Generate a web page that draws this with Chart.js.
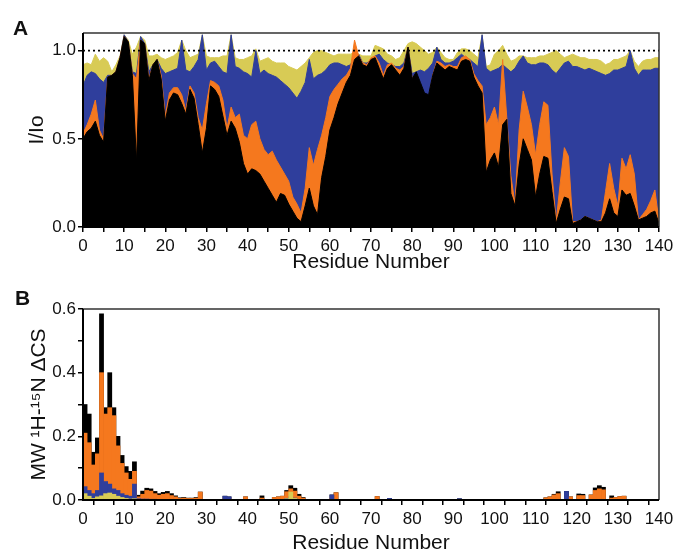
<!DOCTYPE html>
<html>
<head>
<meta charset="utf-8">
<script src="https://cdn.jsdelivr.net/npm/chart.js@4.4.1/dist/chart.umd.min.js"></script>
<style>
  body { margin: 0; background: #fff; width: 680px; height: 553px; position: relative; overflow: hidden; }
  canvas { position: absolute; left: 0; }
  #chartA { top: 0; }
  #chartB { top: 275px; }
  .tag { position: absolute; font: bold 21px 'Liberation Sans', Arial, sans-serif; line-height: 21px; color: #111; }
</style>
</head>
<body>
<canvas id="chartA" width="680" height="275"></canvas>
<canvas id="chartB" width="680" height="278"></canvas>
<div class="tag" style="left:13px;top:17px">A</div>
<div class="tag" style="left:15px;top:287px">B</div>
<script>
// panel A: relative peak intensity I/Io per residue (0..140)
const residues = Array.from({ length: 141 }, (_, i) => i);

const intensityBlack = [
  0.50,
  0.54,0.56,0.60,0.52,0.48,0.85,0.86,0.88,0.96,1.08,
  1.05,0.86,0.37,1.06,1.04,0.83,0.92,0.95,0.84,0.60,
  0.72,0.76,0.75,0.70,0.64,0.78,0.73,0.58,0.42,0.56,
  0.80,0.78,0.74,0.63,0.52,0.60,0.56,0.48,0.36,0.30,
  0.33,0.32,0.30,0.26,0.22,0.18,0.14,0.19,0.18,0.13,
  0.09,0.05,0.03,0.12,0.22,0.12,0.07,0.28,0.40,0.55,
  0.62,0.70,0.76,0.82,0.86,0.95,0.97,0.92,0.91,0.95,
  0.96,0.90,0.84,0.90,0.92,0.89,0.86,0.90,1.02,0.84,
  0.88,0.82,0.76,0.75,0.86,0.93,0.91,0.89,0.91,0.90,
  0.89,0.94,0.95,0.94,0.85,0.80,0.76,0.31,0.38,0.42,
  0.34,0.58,0.61,0.19,0.12,0.35,0.50,0.44,0.38,0.17,
  0.30,0.40,0.39,0.20,0.02,0.10,0.17,0.16,0.02,0.03,
  0.04,0.06,0.05,0.04,0.03,0.03,0.08,0.16,0.08,0.06,
  0.21,0.18,0.19,0.12,0.04,0.05,0.06,0.08,0.09,0.02
];
const intensityOrange = [
  0.53,
  0.58,0.64,0.72,0.55,0.50,0.85,0.86,0.88,0.96,1.08,
  1.05,0.87,0.84,1.06,1.04,0.84,0.92,0.95,0.86,0.63,
  0.76,0.79,0.79,0.75,0.66,0.80,0.76,0.62,0.55,0.70,
  0.83,0.82,0.80,0.72,0.56,0.68,0.62,0.64,0.52,0.50,
  0.58,0.60,0.50,0.44,0.41,0.43,0.38,0.34,0.30,0.26,
  0.17,0.13,0.08,0.22,0.45,0.35,0.44,0.52,0.62,0.74,
  0.78,0.81,0.84,0.86,0.90,1.06,0.97,0.93,0.92,0.96,
  0.97,0.93,0.86,0.92,0.93,0.90,0.89,0.91,1.02,0.84,
  0.86,0.76,0.60,0.72,0.86,0.94,0.93,0.91,0.92,0.91,
  0.91,0.96,0.97,0.95,0.87,0.83,0.80,0.58,0.62,0.68,
  0.58,0.95,0.62,0.29,0.13,0.55,0.77,0.68,0.58,0.41,
  0.58,0.71,0.69,0.30,0.03,0.25,0.45,0.40,0.03,0.03,
  0.04,0.06,0.05,0.04,0.03,0.04,0.20,0.36,0.22,0.12,
  0.39,0.33,0.41,0.30,0.04,0.07,0.10,0.15,0.21,0.03
];
const intensityBlue = [
  0.80,
  0.86,0.88,0.87,0.84,0.82,0.86,0.86,0.88,0.96,1.09,
  1.05,0.88,0.87,1.08,1.04,0.88,0.92,0.95,0.90,0.87,
  0.88,0.89,0.90,1.06,0.89,0.88,0.91,0.95,1.09,0.89,
  0.93,0.94,0.91,0.88,0.87,1.09,0.91,0.90,0.88,0.87,
  0.85,1.00,0.87,0.89,0.87,0.86,0.85,0.83,0.81,0.79,
  0.76,0.73,0.77,0.82,0.95,0.84,0.86,0.87,0.89,0.92,
  0.93,0.93,0.92,0.91,0.92,0.96,0.98,0.93,0.93,0.95,
  0.97,0.98,0.95,0.93,0.92,0.91,0.91,0.93,1.02,0.87,
  0.88,0.89,0.88,0.90,0.93,1.02,0.95,0.93,0.93,0.94,
  0.96,0.98,0.96,0.95,0.93,0.91,1.09,0.90,0.88,0.89,
  0.90,0.92,0.90,0.88,0.90,0.94,0.97,0.93,0.92,0.92,
  0.93,0.93,0.92,0.89,0.87,0.90,0.93,0.94,0.91,0.91,
  0.90,0.89,0.90,0.89,0.88,0.87,0.86,0.87,0.89,0.89,
  0.90,0.91,1.00,0.90,0.86,0.89,0.89,0.89,0.90,0.90
];
const intensityYellow = [
  0.92,
  0.93,0.92,0.98,0.94,0.96,0.94,0.88,0.92,0.97,1.09,
  1.06,0.98,1.02,1.08,1.06,0.97,0.97,0.98,0.96,0.95,
  0.96,0.97,0.99,1.06,1.00,0.96,0.97,0.98,1.09,0.97,
  0.96,0.96,0.96,0.97,0.97,1.09,0.96,0.95,0.95,0.96,
  0.97,1.01,0.94,0.95,0.96,0.94,0.93,0.93,0.93,0.91,
  0.90,0.89,0.91,0.93,0.96,0.99,1.00,1.00,0.99,0.98,
  0.97,0.98,0.98,0.98,0.98,0.99,0.98,0.97,0.97,0.97,
  1.03,1.02,1.01,0.98,0.97,0.95,0.96,1.00,1.04,1.05,
  1.04,1.02,1.00,0.98,0.99,1.02,0.99,0.96,0.95,0.95,
  0.99,1.01,1.01,1.00,0.98,0.96,1.09,0.91,0.92,0.98,
  1.00,1.03,0.98,0.94,0.95,0.97,0.97,0.96,0.96,0.96,
  0.97,0.97,0.98,0.99,1.00,0.98,0.96,0.97,0.98,0.97,
  0.96,0.96,0.95,0.95,0.95,0.94,0.92,0.93,0.95,0.95,
  0.96,0.97,1.00,0.94,0.91,0.94,0.95,0.95,0.96,0.96
];
const refLevel = 1.0;

// panel B: weighted chemical shift change, residues that show a bar
const shiftResidues = [
  1,2,3,4,5,6,7,8,9,10,11,12,13,14,15,16,17,18,19,20,21,22,23,24,25,26,27,28,29,
  35,36,40,44,47,48,49,50,51,52,53,54,
  61,62,72,75,92,
  113,114,115,116,118,119,121,122,124,125,126,127,129,130,131,132
];
const shiftBlack = [
  0.30,0.27,0.15,0.195,0.585,0.29,0.40,0.29,0.20,0.14,0.105,0.09,0.12,0.015,0.028,0.037,0.035,0.027,0.02,0.024,0.027,0.02,0.013,0.007,0.008,0.006,0.006,0.008,0.025,
  0.012,0.010,0.010,0.013,0.008,0.010,0.012,0.030,0.045,0.037,0.018,0.008,
  0.016,0.023,0.011,0.005,0.004,
  0.007,0.010,0.018,0.026,0.027,0.010,0.019,0.018,0.016,0.038,0.045,0.040,0.013,0.008,0.011,0.012
];
const shiftOrange = [
  0.21,0.18,0.11,0.145,0.40,0.27,0.29,0.265,0.17,0.115,0.085,0.065,0.09,0.01,0.018,0.03,0.028,0.02,0.015,0.018,0.02,0.014,0.01,0.005,0.006,0.005,0.005,0.006,0.025,
  0.006,0.005,0.010,0.006,0.008,0.010,0.012,0.026,0.035,0.028,0.012,0.006,
  0.006,0.023,0.011,0,0,
  0.007,0.010,0.016,0.020,0.006,0.010,0.014,0.014,0.016,0.030,0.035,0.032,0.006,0.008,0.011,0.012
];
const shiftBlue = [
  0.042,0.03,0.02,0.03,0.085,0.058,0.05,0.035,0.03,0.02,0.015,0.012,0.05,0.004,0.003,0.003,0.002,0.002,0,0,0,0,0,0,0,0,0,0,0,
  0.012,0.010,0,0,0,0,0,0.005,0.010,0.006,0,0,
  0.016,0,0,0.005,0.004,
  0,0,0,0,0.027,0,0,0,0,0,0,0,0,0,0,0
];
const shiftYellow = [
  0.02,0.012,0.005,0.01,0.013,0.02,0.022,0.018,0.012,0.008,0.005,0.003,0.004,0,0,0,0,0,0,0,0,0,0,0,0,0,0,0,0,
  0,0,0,0,0,0,0,0.004,0.025,0.005,0,0,
  0,0,0,0,0,
  0,0,0,0,0,0,0,0,0,0,0,0,0,0,0,0
];

const colBlack = '#000000';
const colOrange = '#f5781e';
const colBlue = '#2f3e9c';
const colYellow = '#d8cb55';

Chart.defaults.font.family = "'Liberation Sans', Arial, Helvetica, sans-serif";
Chart.defaults.color = '#111';

// box round the plot, drawn over the filled areas
const framePlugin = {
  id: 'frame',
  afterDatasetsDraw(chart) {
    const { ctx, chartArea: a } = chart;
    ctx.save();
    ctx.strokeStyle = '#333';
    ctx.lineWidth = 1.5;
    ctx.beginPath();
    ctx.moveTo(a.left, a.top);
    ctx.lineTo(a.right, a.top);
    ctx.lineTo(a.right, a.bottom);
    ctx.stroke();
    ctx.strokeStyle = '#000';
    ctx.lineWidth = 2;
    ctx.beginPath();
    ctx.moveTo(a.left, a.top);
    ctx.lineTo(a.left, a.bottom);
    ctx.lineTo(a.right, a.bottom);
    ctx.stroke();
    ctx.restore();
  }
};

const xAxis = (height, titlePad, titleLH) => ({
  type: 'linear', min: 0, max: 140, offset: false,
  border: { display: false },
  grid: { drawOnChartArea: false, tickLength: 5, color: '#000', lineWidth: 1.5 },
  ticks: { stepSize: 5, autoSkip: false, maxRotation: 0, padding: 4, font: { size: 17 },
    callback: v => (v % 10 === 0 ? v : '') },
  title: { display: true, text: 'Residue Number', color: '#111',
    font: { size: 21, lineHeight: titleLH }, padding: { top: 0, bottom: titlePad } },
  afterFit: s => { s.height = height; }
});

const areaSet = (label, values, color) => ({
  label,
  data: residues.map((r, i) => ({ x: r, y: values[i] })),
  borderColor: color, backgroundColor: color, borderWidth: 1,
  fill: 'origin', pointRadius: 0, tension: 0
});

new Chart(document.getElementById('chartA'), {
  type: 'line',
  data: {
    datasets: [
      { label: 'I/Io = 1', data: [{ x: 0, y: refLevel }, { x: 140, y: refLevel }],
        borderColor: '#000', borderWidth: 1.6, borderDash: [2, 3], pointRadius: 0, fill: false },
      areaSet('black', intensityBlack, colBlack),
      areaSet('orange', intensityOrange, colOrange),
      areaSet('blue', intensityBlue, colBlue),
      areaSet('yellow', intensityYellow, colYellow)
    ]
  },
  options: {
    responsive: false, animation: false, devicePixelRatio: 1,
    layout: { padding: { left: 0, top: 33, right: 21, bottom: 0 } },
    plugins: { legend: { display: false }, tooltip: { enabled: false } },
    scales: {
      x: xAxis(48, 0, 1.2),
      y: {
        min: 0, max: 1.1,
        border: { display: false },
        grid: { drawOnChartArea: false, tickLength: 5, color: '#000', lineWidth: 1.5 },
        ticks: { stepSize: 0.5, includeBounds: false, padding: 2, font: { size: 17 },
          callback: v => v.toFixed(1) },
        title: { display: true, text: 'I/Io', color: '#111', font: { size: 21 }, padding: { top: 25 } },
        afterFit: s => { s.width = 83; }
      }
    }
  },
  plugins: [framePlugin]
});

const barSet = (label, values, color) => ({
  label,
  data: shiftResidues.map((r, i) => ({ x: r - 0.5, y: values[i] })),
  backgroundColor: color, borderWidth: 0,
  grouped: false, barPercentage: 1, categoryPercentage: 1
});

new Chart(document.getElementById('chartB'), {
  type: 'bar',
  data: {
    datasets: [
      barSet('yellow', shiftYellow, colYellow),
      barSet('blue', shiftBlue, colBlue),
      barSet('orange', shiftOrange, colOrange),
      barSet('black', shiftBlack, colBlack)
    ]
  },
  options: {
    responsive: false, animation: false, devicePixelRatio: 1,
    layout: { padding: { left: 0, top: 34, right: 21, bottom: 0 } },
    plugins: { legend: { display: false }, tooltip: { enabled: false } },
    scales: {
      x: xAxis(53, 0, 0.9),
      y: {
        min: 0, max: 0.6,
        border: { display: false },
        grid: { drawOnChartArea: false, tickLength: 5, color: '#000', lineWidth: 1.5 },
        ticks: { stepSize: 0.1, padding: 2, font: { size: 17 },
          callback: v => (Math.round(v * 10) % 2 === 0 ? v.toFixed(1) : '') },
        title: { display: true, text: 'MW \u00B9H-\u00B9\u2075N \u0394CS', color: '#111',
          font: { size: 21 }, padding: { top: 27 } },
        afterFit: s => { s.width = 83; }
      }
    }
  },
  plugins: [framePlugin]
});
</script>
</body>
</html>
